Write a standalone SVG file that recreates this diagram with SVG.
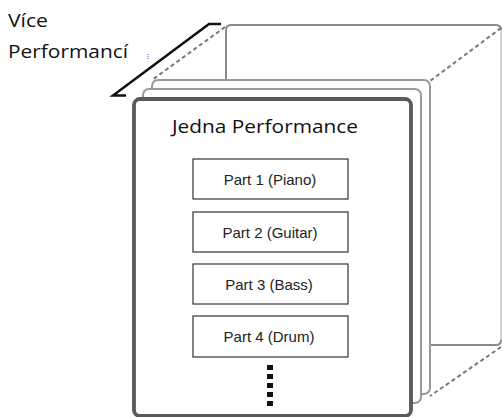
<svg xmlns="http://www.w3.org/2000/svg" width="503" height="417" viewBox="0 0 503 417">
<style>
.lbl{font-family:"Open Sans","Liberation Sans",sans-serif;font-size:18px;fill:#111}
.part{font-family:"Liberation Sans",Arial,sans-serif;font-size:15px;fill:#222;text-anchor:middle}
.box{fill:#fff;stroke:#333;stroke-width:1.2}
.dash{fill:none;stroke:#777;stroke-width:2;stroke-dasharray:4 3}
.layer{fill:#fff;stroke:#999;stroke-width:2}
</style>
<rect width="503" height="417" fill="#fff"/>
<g id="label-vice">
<text class="lbl" x="8" y="27" textLength="40" lengthAdjust="spacingAndGlyphs">Více</text>
<text class="lbl" x="8" y="58" textLength="120" lengthAdjust="spacingAndGlyphs">Performancí</text>
<line x1="148" y1="54" x2="148" y2="59" stroke="#3a6fd8" stroke-width="1" stroke-dasharray="1 1"/>
</g>
<g id="back-panel">
<rect x="226" y="25" width="275" height="320" rx="5" fill="#fff" stroke="none"/>
<path d="M226,345 V30 Q226,25 231,25 H496 Q501,25 501,30" fill="none" stroke="#8a8a8a" stroke-width="2"/>
<path d="M501,30 V340" fill="none" stroke="#c4c4c4" stroke-width="1.5"/>
<path d="M226,345 H496 Q501,345 501,340" fill="none" stroke="#8a8a8a" stroke-width="2"/>
</g>
<g id="connectors">
<line class="dash" x1="225" y1="27" x2="152" y2="80"/>
<line class="dash" x1="501" y1="28" x2="430" y2="81"/>
<line class="dash" x1="501" y1="347" x2="430" y2="396"/>
<polyline points="126,95.5 113,95.5 209,24 221,24" fill="none" stroke="#111" stroke-width="2.5" stroke-linejoin="miter"/>
</g>
<g id="layer-3">
<rect class="layer" x="152" y="80" width="278" height="314" rx="6"/>
</g>
<g id="layer-2">
<rect class="layer" x="143" y="89" width="278" height="314" rx="6"/>
</g>
<g id="front-panel">
<rect x="134" y="99" width="277" height="317" rx="6" fill="#fff" stroke="#5a5a5a" stroke-width="3.8"/>
<text class="lbl" x="172" y="133" textLength="186" lengthAdjust="spacingAndGlyphs">Jedna Performance</text>
</g>
<g id="part-1">
<rect class="box" x="193" y="159" width="155" height="40"/>
<text class="part" x="270" y="184.5">Part 1 (Piano)</text>
</g>
<g id="part-2">
<rect class="box" x="193" y="212" width="155" height="40"/>
<text class="part" x="270" y="237.5">Part 2 (Guitar)</text>
</g>
<g id="part-3">
<rect class="box" x="193" y="264" width="155" height="40"/>
<text class="part" x="269" y="289.5">Part 3 (Bass)</text>
</g>
<g id="part-4">
<rect class="box" x="193" y="316" width="155" height="41"/>
<text class="part" x="269" y="342">Part 4 (Drum)</text>
</g>
<g id="more-dots">
<line x1="270" y1="365" x2="270" y2="406" stroke="#111" stroke-width="6" stroke-dasharray="5 4"/>
</g>
</svg>
